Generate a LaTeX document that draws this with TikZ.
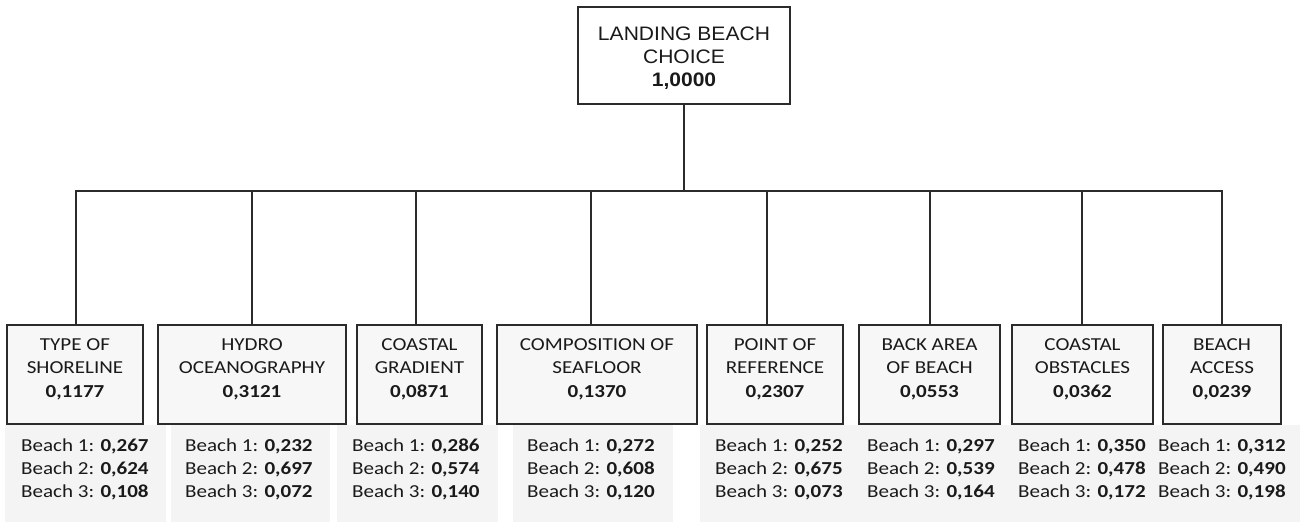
\documentclass[tikz,border=0pt]{standalone}
\usepackage{fontspec}
\setmainfont{Carlito}[FakeStretch=1.15]
\newfontfamily\headfont{Liberation Sans}[FakeStretch=1.08]
\definecolor{edge}{HTML}{2B2B2B}
\definecolor{panel}{HTML}{F4F4F4}
\definecolor{boxfill}{HTML}{F7F7F7}
\definecolor{ink}{HTML}{1A1A1A}

% criterion box contents: width, name, weight
\newcommand{\crit}[3]{\parbox[c][99pt][t]{#1pt}{\centering\fontsize{18.3}{23.5}\selectfont\rule{0pt}{25pt}#2\\\textbf{#3}}}
% local priorities of the three beaches
\newcommand{\scores}[3]{\rule{0pt}{14pt}Beach 1: \textbf{#1}\\Beach 2: \textbf{#2}\\Beach 3: \textbf{#3}}

\tikzset{
  conn/.style={draw=edge, line width=1.8pt},
  goalbox/.style={draw=edge, line width=1.8pt, fill=white, inner sep=0pt, text=ink},
  critbox/.style={draw=edge, line width=1.8pt, fill=boxfill, inner sep=0pt, text=ink},
  scorebox/.style={anchor=north west, inner sep=0pt, align=left, text=ink,
    font=\fontsize{18.3}{23}\selectfont},
}

\begin{document}
\begin{tikzpicture}[x=1pt,y=-1pt]
\useasboundingbox (0,0) rectangle (1300,522);

% shaded bands under the criteria
\fill[panel] (5,425) rectangle (166,522);
\fill[panel] (171,425) rectangle (330,522);
\fill[panel] (337,425) rectangle (498,522);
\fill[panel] (513,425) rectangle (673,522);
\fill[panel] (700,425) rectangle (1300,522);

% goal
\node[goalbox] (top) at (684,55.5)
  {\parbox[c][97pt][t]{212pt}{\centering\headfont\fontsize{19.5}{23}\selectfont\rule{0pt}{33pt}LANDING BEACH\\CHOICE\\\textbf{1,0000}}};

% criteria
\node[critbox] (b1) at (75,374.5)    {\crit{136}{TYPE OF\\SHORELINE}{0,1177}};
\node[critbox] (b2) at (252,374.5)   {\crit{188}{HYDRO\\OCEANOGRAPHY}{0,3121}};
\node[critbox] (b3) at (419.5,374.5) {\crit{125}{COASTAL\\GRADIENT}{0,0871}};
\node[critbox] (b4) at (597,374.5)   {\crit{200}{COMPOSITION OF\\SEAFLOOR}{0,1370}};
\node[critbox] (b5) at (775,374.5)   {\crit{136}{POINT OF\\REFERENCE}{0,2307}};
\node[critbox] (b6) at (929.5,374.5) {\crit{141}{BACK AREA\\OF BEACH}{0,0553}};
\node[critbox] (b7) at (1082.5,374.5){\crit{141}{COASTAL\\OBSTACLES}{0,0362}};
\node[critbox] (b8) at (1222,374.5)  {\crit{118}{BEACH\\ACCESS}{0,0239}};

% connectors
\coordinate (hub) at (684,191);
\coordinate (j1) at (76,191);
\coordinate (j2) at (252,191);
\coordinate (j3) at (416,191);
\coordinate (j4) at (591,191);
\coordinate (j5) at (767,191);
\coordinate (j6) at (930,191);
\coordinate (j7) at (1082,191);
\coordinate (j8) at (1222,191);
\draw[conn] (top.south) -- (hub);
\draw[conn] (j1 |- b1.north) -- (j1) -- (j8) -- (j8 |- b8.north);
\foreach \i in {2,...,7} \draw[conn] (j\i) -- (j\i |- b\i.north);

% beach scores
\node[scorebox] (s1) at (21,437)   {\scores{0,267}{0,624}{0,108}};
\node[scorebox] (s2) at (185,437)  {\scores{0,232}{0,697}{0,072}};
\node[scorebox] (s3) at (352,437)  {\scores{0,286}{0,574}{0,140}};
\node[scorebox] (s4) at (527,437)  {\scores{0,272}{0,608}{0,120}};
\node[scorebox] (s5) at (715,437)  {\scores{0,252}{0,675}{0,073}};
\node[scorebox] (s6) at (867,437)  {\scores{0,297}{0,539}{0,164}};
\node[scorebox] (s7) at (1018,437) {\scores{0,350}{0,478}{0,172}};
\node[scorebox] (s8) at (1158,437) {\scores{0,312}{0,490}{0,198}};
\end{tikzpicture}
\end{document}
